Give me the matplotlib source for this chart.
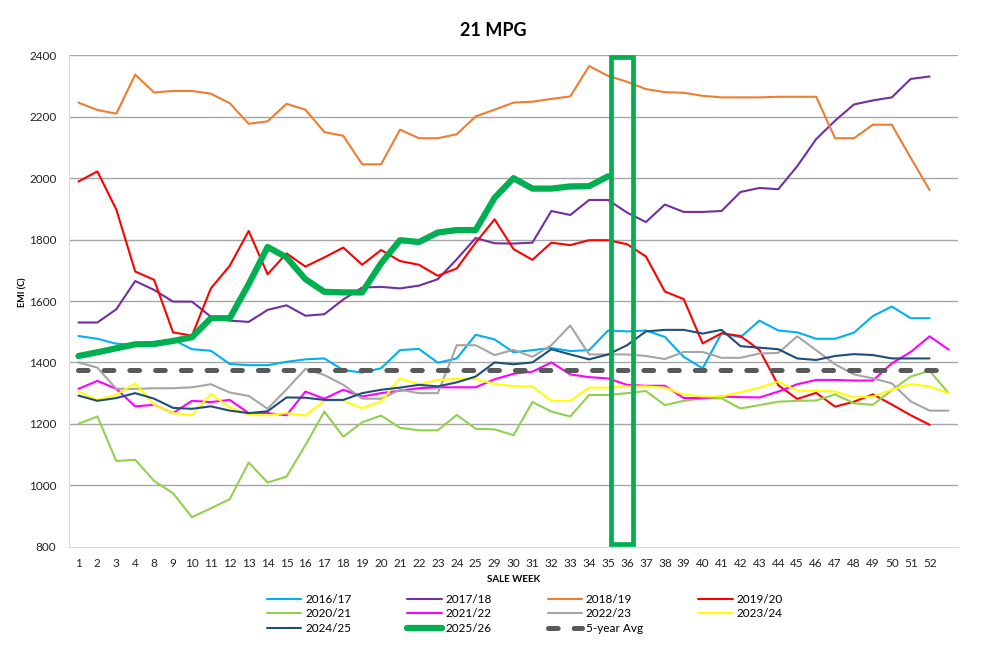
import matplotlib
matplotlib.use('Agg')
import matplotlib.pyplot as plt
from matplotlib.patches import Rectangle

# Sale weeks on the x axis (last slot has no label)
weeks = ['1', '2', '3', '4', '8', '9', '10', '11', '12', '13', '14', '15', '16', '17', '18',
         '19', '20', '21', '22', '23', '24', '25', '29', '30', '31', '32', '33', '34', '35',
         '36', '37', '38', '39', '40', '41', '42', '43', '44', '45', '46', '47', '48', '49',
         '50', '51', '52', '']

# EMI values, one list per season
s2016 = [1486, 1477, 1461, 1458, 1467, 1474, 1443, 1438, 1395, 1391, 1391, 1402, 1410, 1413,
         1375, 1367, 1381, 1440, 1444, 1399, 1413, 1490, 1475, 1433, 1440, 1447, 1437, 1440,
         1504, 1501, 1504, 1483, 1418, 1381, 1495, 1482, 1536, 1504, 1498, 1477, 1477, 1497,
         1551, 1582, 1544, 1544]
s2017 = [1530, 1530, 1573, 1665, 1636, 1598, 1598, 1549, 1536, 1532, 1571, 1586, 1552, 1557,
         1605, 1644, 1646, 1641, 1650, 1671, 1736, 1805, 1788, 1787, 1790, 1893, 1880, 1929,
         1929, 1888, 1857, 1914, 1890, 1890, 1893, 1955, 1968, 1964, 2039, 2127, 2187, 2240,
         2253, 2263, 2323, 2331]
s2018 = [2246, 2222, 2210, 2337, 2279, 2284, 2284, 2275, 2244, 2177, 2185, 2242, 2223, 2150,
         2138, 2045, 2045, 2158, 2130, 2130, 2143, 2201, 2223, 2246, 2249, 2258, 2266, 2365,
         2333, 2314, 2290, 2280, 2278, 2268, 2263, 2263, 2263, 2265, 2265, 2265, 2130, 2130,
         2174, 2174, 2066, 1961]
s2019 = [1989, 2022, 1898, 1696, 1669, 1498, 1487, 1641, 1715, 1828, 1687, 1755, 1712, 1742,
         1774, 1718, 1766, 1730, 1718, 1682, 1706, 1790, 1866, 1769, 1734, 1790, 1782, 1798,
         1798, 1785, 1745, 1631, 1606, 1462, 1495, 1486, 1441, 1326, 1281, 1301, 1256, 1272,
         1296, 1263, 1228, 1197]
s2020 = [1200, 1224, 1079, 1083, 1014, 974, 896, 925, 955, 1074, 1009, 1028, 1131, 1240,
         1158, 1205, 1227, 1187, 1179, 1179, 1229, 1184, 1182, 1163, 1271, 1240, 1224, 1294,
         1294, 1300, 1307, 1261, 1275, 1283, 1283, 1250, 1261, 1272, 1275, 1276, 1296, 1267,
         1262, 1310, 1354, 1373, 1300]
s2021 = [1314, 1340, 1314, 1257, 1262, 1235, 1275, 1271, 1278, 1235, 1235, 1228, 1305, 1282,
         1311, 1289, 1300, 1308, 1316, 1319, 1319, 1319, 1345, 1363, 1370, 1400, 1361, 1352,
         1348, 1327, 1324, 1324, 1284, 1284, 1289, 1287, 1286, 1305, 1329, 1343, 1343, 1341,
         1341, 1397, 1434, 1485, 1442]
s2022 = [1400, 1383, 1314, 1314, 1316, 1316, 1319, 1329, 1302, 1291, 1249, 1312, 1379, 1359,
         1327, 1282, 1282, 1311, 1300, 1300, 1456, 1456, 1424, 1441, 1418, 1456, 1520, 1426,
         1426, 1426, 1421, 1411, 1434, 1434, 1415, 1415, 1429, 1431, 1485, 1440, 1394, 1361,
         1348, 1332, 1273, 1243, 1243]
s2023 = [1305, 1278, 1295, 1332, 1262, 1235, 1228, 1297, 1254, 1230, 1228, 1235, 1227, 1275,
         1275, 1251, 1273, 1348, 1329, 1343, 1346, 1346, 1330, 1323, 1322, 1275, 1275, 1318,
         1318, 1322, 1322, 1318, 1295, 1289, 1289, 1303, 1318, 1338, 1308, 1308, 1305, 1286,
         1289, 1311, 1329, 1322, 1300]
s2024 = [1292, 1275, 1284, 1300, 1282, 1252, 1249, 1257, 1243, 1235, 1241, 1286, 1285, 1278,
         1278, 1300, 1311, 1318, 1327, 1322, 1335, 1354, 1400, 1394, 1400, 1443, 1426, 1410,
         1426, 1456, 1501, 1506, 1506, 1494, 1506, 1453, 1448, 1443, 1413, 1408, 1421, 1427,
         1424, 1413, 1413, 1413]
s2025 = [1421, 1433, 1446, 1459, 1460, 1470, 1482, 1544, 1544, 1655, 1776, 1742, 1671, 1630,
         1628, 1628, 1723, 1798, 1792, 1823, 1831, 1831, 1936, 2000, 1966, 1966, 1973, 1974,
         2006]
avg5 = [1375] * len(weeks)

# label, values, colour, width
series = [
    ('2016/17', s2016, '#00B0F0', 1.5),
    ('2017/18', s2017, '#7030A0', 1.5),
    ('2018/19', s2018, '#ED7D31', 1.5),
    ('2019/20', s2019, '#FF0000', 1.5),
    ('2020/21', s2020, '#92D050', 1.5),
    ('2021/22', s2021, '#FF00FF', 1.5),
    ('2022/23', s2022, '#A5A5A5', 1.5),
    ('2023/24', s2023, '#FFFF00', 1.5),
    ('2024/25', s2024, '#1F4E79', 1.5),
    ('2025/26', s2025, '#00B050', 4.5),
]

plt.rcParams['font.family'] = ['Lato', 'DejaVu Sans']

fig = plt.figure(figsize=(9.87, 6.48), dpi=100)
ax = fig.add_axes([69 / 987, 1 - 546.7 / 648, 889 / 987, 491.4 / 648])

handles = {}
for label, vals, color, lw in series:
    line, = ax.plot(range(len(vals)), vals, color=color, linewidth=lw, label=label,
                    solid_joinstyle='round', solid_capstyle='round')
    handles[label] = line

avg_line, = ax.plot(range(len(avg5)), avg5, color='#595959', linewidth=3.6,
                    dashes=(1.94, 3.2), dash_capstyle='round', label='5-year Avg')
handles['5-year Avg'] = avg_line

# Highlight box around weeks 35-36
i35 = weeks.index('35')
i36 = weeks.index('36')
ax.add_patch(Rectangle((i35 + 0.17, 809), (i36 + 0.3) - (i35 + 0.17), 2395 - 809,
                       fill=False, edgecolor='#00B050', linewidth=3.4, zorder=5))

# Axes styling
ax.set_xlim(-0.5, len(weeks) - 0.5)
ax.set_ylim(800, 2400)
ax.set_xticks(range(len(weeks)))
ax.set_xticklabels(weeks)
ax.set_yticks(range(800, 2401, 200))
ax.tick_params(axis='both', length=0, labelsize=8.5, colors='#222222')
ax.tick_params(axis='x', pad=8)
ax.tick_params(axis='y', pad=9)
ax.grid(axis='y', color='#A6A6A6', linewidth=1)
ax.get_ygridlines()[0].set_visible(False)
ax.set_axisbelow(True)
for side in ['top', 'right']:
    ax.spines[side].set_visible(False)
for side in ['left', 'bottom']:
    ax.spines[side].set_color('#D9D9D9')

ax.set_ylabel('EMI (C)', fontsize=6.5, fontweight='bold')
ax.yaxis.set_label_coords(-0.047, 0.518)
ax.set_xlabel('SALE WEEK', fontsize=7, fontweight='bold')
ax.xaxis.set_label_coords(0.5, -0.057)

fig.text(0.5, 1 - 30 / 648, '21 MPG', ha='center', va='center', fontsize=13, fontweight='bold')

# Legend, filled column by column to match the 4-column layout
order = ['2016/17', '2020/21', '2024/25', '2017/18', '2021/22', '2025/26',
         '2018/19', '2022/23', '5-year Avg', '2019/20', '2023/24']
fig.legend([handles[k] for k in order], order, loc='upper center', ncol=4,
           bbox_to_anchor=(0.532, 0.093), frameon=False, fontsize=8.5,
           handlelength=2.9, handletextpad=0.35, columnspacing=4.7,
           labelspacing=0.3, borderpad=0)

fig.savefig('out.png', dpi=100)
